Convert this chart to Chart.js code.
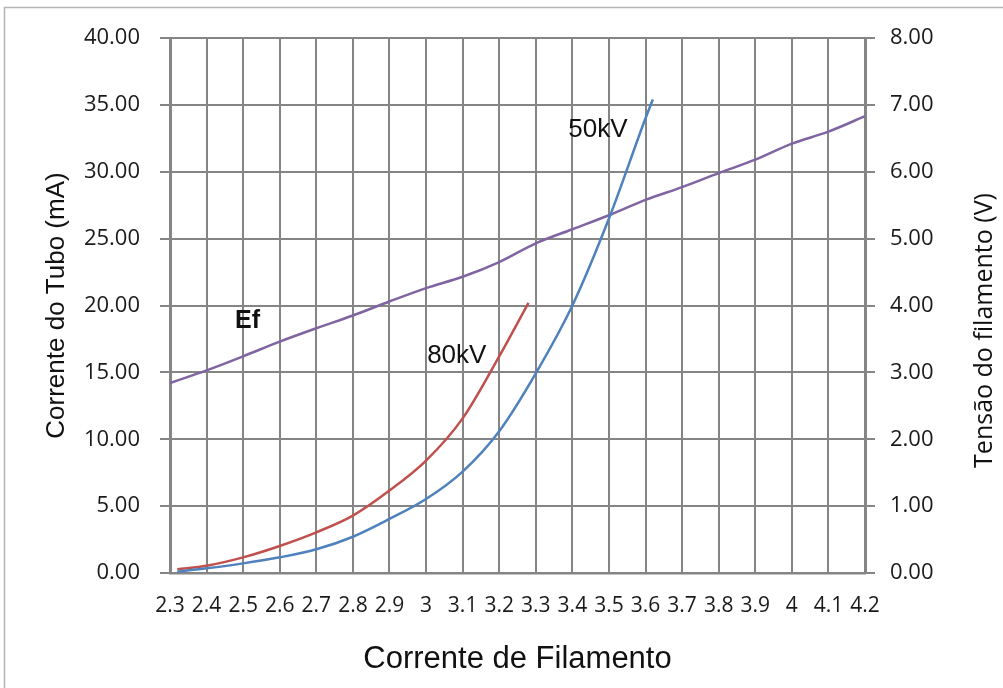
<!DOCTYPE html>
<html>
<head>
<meta charset="utf-8">
<script src="https://cdn.jsdelivr.net/npm/chart.js@4.4.1/dist/chart.umd.min.js"></script>
<style>
  html, body { margin: 0; padding: 0; background: #fff; }
  #box { width: 1003px; height: 688px; position: relative; }
</style>
</head>
<body>
<div id="box"><canvas id="grafico"></canvas></div>
<script>
// corrente de filamento (eixo x)
const correnteFilamento = [2.3, 2.4, 2.5, 2.6, 2.7, 2.8, 2.9, 3.0, 3.1, 3.2, 3.3, 3.4, 3.5, 3.6, 3.7, 3.8, 3.9, 4.0, 4.1, 4.2];

// tensao do filamento Ef (V) - eixo da direita
const tensaoEf = [2.84, 3.03, 3.24, 3.46, 3.66, 3.85, 4.06, 4.26, 4.43, 4.65, 4.93, 5.14, 5.35, 5.58, 5.77, 5.98, 6.18, 6.42, 6.60, 6.83];

// corrente do tubo a 50kV (mA)
const x50kV = [2.32, 2.4, 2.5, 2.6, 2.7, 2.8, 2.9, 3.0, 3.1, 3.2, 3.3, 3.4, 3.5, 3.6, 3.62];
const tubo50kV = [0.10, 0.35, 0.72, 1.17, 1.77, 2.71, 4.04, 5.53, 7.58, 10.6, 14.93, 20.0, 26.5, 34.0, 35.4];

// corrente do tubo a 80kV (mA)
const x80kV = [2.32, 2.4, 2.5, 2.6, 2.7, 2.8, 2.9, 3.0, 3.1, 3.2, 3.28];
const tubo80kV = [0.28, 0.55, 1.17, 2.02, 3.04, 4.29, 6.16, 8.4, 11.56, 16.2, 20.2];

const pares = (xs, ys) => xs.map((x, i) => ({ x: x, y: ys[i] }));

// textos dentro do grafico (coordenadas nos eixos)
const rotulos = [
  { texto: '50kV', x: 3.47, y: 33.1, fonte: '26px "Liberation Sans", Arial' },
  { texto: '80kV', x: 3.084, y: 16.2, fonte: '26px "Liberation Sans", Arial' },
  { texto: 'Ef', x: 2.512, y: 18.8, fonte: 'bold 25px "Liberation Sans", Arial' }
];

const tituloDireita = 'Tensão do filamento (V)';
const corGrade = '#858585';

const rotulosPlugin = {
  id: 'rotulos',
  beforeDraw(chart) {
    const c = chart.ctx;
    c.save();
    c.strokeStyle = '#b4b4b4';
    c.lineWidth = 1.5;
    c.strokeRect(4.5, 7.5, 1100, 800);
    c.restore();
  },
  afterDraw(chart) {
    const c = chart.ctx;
    const area = chart.chartArea;
    c.save();
    c.fillStyle = '#111';
    c.font = '25px "Open Sans"';
    c.textAlign = 'center';
    c.textBaseline = 'middle';
    c.translate(985, (area.top + area.bottom) / 2 + 25);
    c.rotate(-Math.PI / 2);
    c.fillText(tituloDireita, 0, 0);
    c.restore();
  },
  afterDatasetsDraw(chart) {
    const c = chart.ctx;
    const sx = chart.scales.x, sy = chart.scales.y;
    c.save();
    c.fillStyle = '#111';
    c.textAlign = 'center';
    c.textBaseline = 'middle';
    rotulos.forEach((r) => {
      c.font = r.fonte;
      c.fillText(r.texto, sx.getPixelForValue(r.x), sy.getPixelForValue(r.y));
    });
    c.restore();
  }
};

const ctx = document.getElementById('grafico');
new Chart(ctx, {
  type: 'line',
  data: {
    datasets: [
      {
        label: '50kV',
        data: pares(x50kV, tubo50kV),
        borderColor: '#4F81BD',
        borderWidth: 2.5,
        pointRadius: 0,
        cubicInterpolationMode: 'monotone',
        yAxisID: 'y'
      },
      {
        label: '80kV',
        data: pares(x80kV, tubo80kV),
        borderColor: '#C0504D',
        borderWidth: 2.5,
        pointRadius: 0,
        cubicInterpolationMode: 'monotone',
        yAxisID: 'y'
      },
      {
        label: 'Ef',
        data: pares(correnteFilamento, tensaoEf),
        borderColor: '#8064A2',
        borderWidth: 2.5,
        pointRadius: 0,
        cubicInterpolationMode: 'monotone',
        yAxisID: 'y2'
      }
    ]
  },
  options: {
    responsive: true,
    maintainAspectRatio: false,
    animation: false,
    layout: { padding: { top: 38, left: 0, right: 0, bottom: 0 } },
    plugins: {
      legend: { display: false },
      tooltip: { enabled: false }
    },
    scales: {
      x: {
        type: 'linear',
        min: 2.3,
        max: 4.2,
        afterFit: (s) => { s.height = 115; },
        ticks: {
          stepSize: 0.1,
          autoSkip: false,
          maxRotation: 0,
          padding: 20,
          color: '#1a1a1a',
          font: { family: '"Open Sans"', size: 21 },
          callback: (v) => String(Number(v.toFixed(1)))
        },
        grid: { color: corGrade, lineWidth: 2, drawTicks: false },
        border: { color: corGrade, width: 2.5 },
        title: {
          display: true,
          text: 'Corrente de Filamento',
          color: '#111',
          font: { family: '"Liberation Sans", Arial', size: 31 },
          padding: { top: 0, bottom: 10 }
        }
      },
      y: {
        position: 'left',
        min: 0,
        max: 40,
        afterFit: (s) => { s.width = 170; },
        ticks: {
          stepSize: 5,
          padding: 20,
          color: '#1a1a1a',
          font: { family: '"Open Sans"', size: 22 },
          callback: (v) => v.toFixed(2)
        },
        grid: { color: corGrade, lineWidth: 2, tickLength: 10 },
        border: { color: corGrade, width: 3 },
        title: {
          display: true,
          text: 'Corrente do Tubo (mA)',
          color: '#111',
          font: { family: '"Liberation Sans", Arial', size: 26 },
          padding: { top: 41, bottom: 0 }
        }
      },
      y2: {
        position: 'right',
        min: 0,
        max: 8,
        afterFit: (s) => { s.width = 138; },
        ticks: {
          stepSize: 1,
          padding: 15,
          color: '#1a1a1a',
          font: { family: '"Open Sans"', size: 22 },
          callback: (v) => v.toFixed(2)
        },
        grid: { color: corGrade, lineWidth: 2, tickLength: 10, drawOnChartArea: false },
        border: { color: corGrade, width: 3 },
        title: { display: false }
      }
    }
  },
  plugins: [rotulosPlugin]
});
</script>
</body>
</html>
